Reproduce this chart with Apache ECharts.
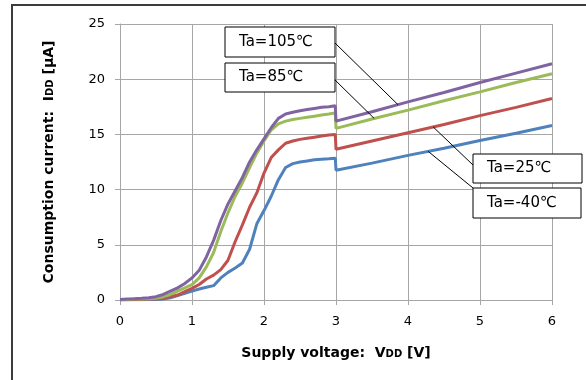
<!DOCTYPE html>
<html>
<head>
<meta charset="utf-8">
<script src="https://cdn.jsdelivr.net/npm/echarts@6/dist/echarts.min.js"></script>
<style>
  html, body { margin: 0; padding: 0; background: #fff; }
  #chart { width: 586px; height: 380px; }
</style>
</head>
<body>
<div id="chart"></div>
<script>
// Supply voltage samples [V]; 3.0 appears twice for the step in current.
const voltage = [0, 0.1, 0.2, 0.3, 0.4, 0.5, 0.6, 0.7, 0.8, 0.9, 1.0, 1.1, 1.2, 1.3, 1.4, 1.5, 1.6, 1.7, 1.8, 1.9,
  2.0, 2.1, 2.2, 2.3, 2.4, 2.5, 2.6, 2.7, 2.8, 2.9, 2.99, 3.0, 3.5, 4.0, 4.5, 5.0, 5.5, 6.0];

// Consumption current IDD [uA] per ambient temperature
const idd105 = [0.05, 0.1, 0.12, 0.15, 0.2, 0.3, 0.5, 0.8, 1.1, 1.5, 2.0, 2.7, 3.9, 5.4, 7.2, 8.7, 9.9, 11.1, 12.5, 13.6,
  14.6, 15.6, 16.45, 16.85, 17.0, 17.15, 17.25, 17.35, 17.45, 17.5, 17.6, 16.2, 17.05, 17.95, 18.8, 19.7, 20.55, 21.4];
const idd85 = [0.02, 0.05, 0.08, 0.1, 0.12, 0.15, 0.3, 0.5, 0.8, 1.1, 1.4, 2.0, 3.0, 4.3, 6.2, 7.9, 9.4, 10.6, 12.0, 13.3,
  14.4, 15.4, 15.95, 16.2, 16.35, 16.45, 16.55, 16.65, 16.75, 16.85, 16.95, 15.55, 16.4, 17.2, 18.05, 18.85, 19.7, 20.5];
const idd25 = [0.02, 0.03, 0.05, 0.06, 0.08, 0.1, 0.2, 0.3, 0.45, 0.75, 1.05, 1.4, 1.9, 2.25, 2.75, 3.6, 5.3, 6.8, 8.4, 9.7,
  11.5, 12.9, 13.6, 14.2, 14.4, 14.55, 14.65, 14.75, 14.85, 14.95, 15.0, 13.65, 14.4, 15.15, 15.9, 16.7, 17.45, 18.25];
const iddM40 = [0.02, 0.02, 0.03, 0.03, 0.04, 0.05, 0.1, 0.2, 0.4, 0.6, 0.8, 1.0, 1.15, 1.3, 2.0, 2.5, 2.9, 3.35, 4.6, 6.9,
  8.1, 9.4, 10.9, 12.0, 12.35, 12.5, 12.6, 12.7, 12.75, 12.8, 12.85, 11.75, 12.4, 13.1, 13.75, 14.45, 15.1, 15.8];

const seriesNames = ['Ta=105℃', 'Ta=85℃', 'Ta=25℃', 'Ta=-40℃'];
const seriesValues = [idd105, idd85, idd25, iddM40];
const seriesColors = ['#8064a2', '#9bbb59', '#c0504d', '#4f81bd'];

// Callout boxes: pixel box, where the leader leaves the box, and the voltage it points at
const callouts = [
  { name: 'Ta=105℃', box: [225, 27, 110, 30], from: [335, 43], atV: 3.86 },
  { name: 'Ta=85℃',  box: [225, 63, 110, 29], from: [335, 80], atV: 3.53 },
  { name: 'Ta=25℃',  box: [473, 154, 109, 29], from: [473, 165], atV: 4.35 },
  { name: 'Ta=-40℃', box: [473, 188, 108, 30], from: [473, 188], atV: 4.28 }
];

const xTicks = [0, 6, 1];
const yTicks = [0, 25, 5];

const FONT = '"DejaVu Sans", Verdana, sans-serif';
const gridColor = '#a6a6a6';

const chart = echarts.init(document.getElementById('chart'), null, { renderer: 'canvas' });

function pairs(vs) { return voltage.map((v, i) => [v, vs[i]]); }

function interp(vs, v) {
  for (let i = 1; i < voltage.length; i++) {
    if (voltage[i] >= v && voltage[i - 1] <= v && voltage[i] > voltage[i - 1]) {
      const t = (v - voltage[i - 1]) / (voltage[i] - voltage[i - 1]);
      return vs[i - 1] + t * (vs[i] - vs[i - 1]);
    }
  }
  return vs[vs.length - 1];
}

const option = {
  animation: false,
  backgroundColor: '#ffffff',
  grid: { left: 120, top: 24, width: 432, height: 276, containLabel: false },
  xAxis: {
    type: 'value', min: xTicks[0], max: xTicks[1], interval: xTicks[2],
    name: '{t|Supply voltage:  V}{s|DD}{t| [V]}',
    nameLocation: 'middle', nameGap: 46,
    nameTextStyle: { rich: {
      t: { fontFamily: FONT, fontSize: 14, fontWeight: 'bold', color: '#000' },
      s: { fontFamily: FONT, fontSize: 10, fontWeight: 'bold', color: '#000', padding: [3, 0, 0, 0] }
    } },
    axisLine: { show: true, lineStyle: { color: gridColor, width: 1 } },
    axisTick: { show: true, inside: false, length: 5, lineStyle: { color: gridColor } },
    axisLabel: { fontFamily: FONT, fontSize: 13, color: '#000', margin: 15 },
    splitLine: { show: true, lineStyle: { color: gridColor, width: 1 } }
  },
  yAxis: {
    type: 'value', min: yTicks[0], max: yTicks[1], interval: yTicks[2],
    name: '{t|Consumption current:  I}{s|DD}{t| [μA]}',
    nameLocation: 'middle', nameGap: 64, nameRotate: 90,
    nameTextStyle: { rich: {
      t: { fontFamily: FONT, fontSize: 14, fontWeight: 'bold', color: '#000' },
      s: { fontFamily: FONT, fontSize: 10, fontWeight: 'bold', color: '#000', padding: [3, 0, 0, 0] }
    } },
    axisLine: { show: true, lineStyle: { color: gridColor, width: 1 } },
    axisTick: { show: true, inside: false, length: 5, lineStyle: { color: gridColor } },
    axisLabel: { fontFamily: FONT, fontSize: 13, color: '#000', margin: 15 },
    splitLine: { show: true, lineStyle: { color: gridColor, width: 1 } }
  },
  series: seriesNames.map((n, k) => ({
    name: n, type: 'line', data: pairs(seriesValues[k]),
    showSymbol: false, symbol: 'none',
    lineStyle: { color: seriesColors[k], width: 3 },
    z: 10 - k
  }))
};
chart.setOption(option);

// Outer frame (left and top edges visible) and callouts, placed after layout
const graphics = [
  { type: 'line', shape: { x1: 12, y1: 5, x2: 12, y2: 380 }, silent: true,
    style: { stroke: '#3c3c3c', lineWidth: 2 }, z: 0 },
  { type: 'line', shape: { x1: 11, y1: 5, x2: 586, y2: 5 }, silent: true,
    style: { stroke: '#3c3c3c', lineWidth: 2 }, z: 0 }
];
callouts.forEach(c => {
  const k = seriesNames.indexOf(c.name);
  const p = chart.convertToPixel({ gridIndex: 0 }, [c.atV, interp(seriesValues[k], c.atV)]);
  graphics.push({
    type: 'line', shape: { x1: c.from[0], y1: c.from[1], x2: p[0], y2: p[1] },
    style: { stroke: '#000', lineWidth: 1 }, z: 20
  });
  graphics.push({
    type: 'rect', shape: { x: c.box[0], y: c.box[1], width: c.box[2], height: c.box[3] },
    style: { fill: '#fff', stroke: '#000', lineWidth: 1 }, z: 21
  });
  graphics.push({
    type: 'text', x: c.box[0] + 14, y: c.box[1] + c.box[3] / 2, z: 22,
    style: { text: c.name, fontFamily: FONT, fontSize: 15, fill: '#000', verticalAlign: 'middle', align: 'left' }
  });
});
chart.setOption({ graphic: graphics });
</script>
</body>
</html>
